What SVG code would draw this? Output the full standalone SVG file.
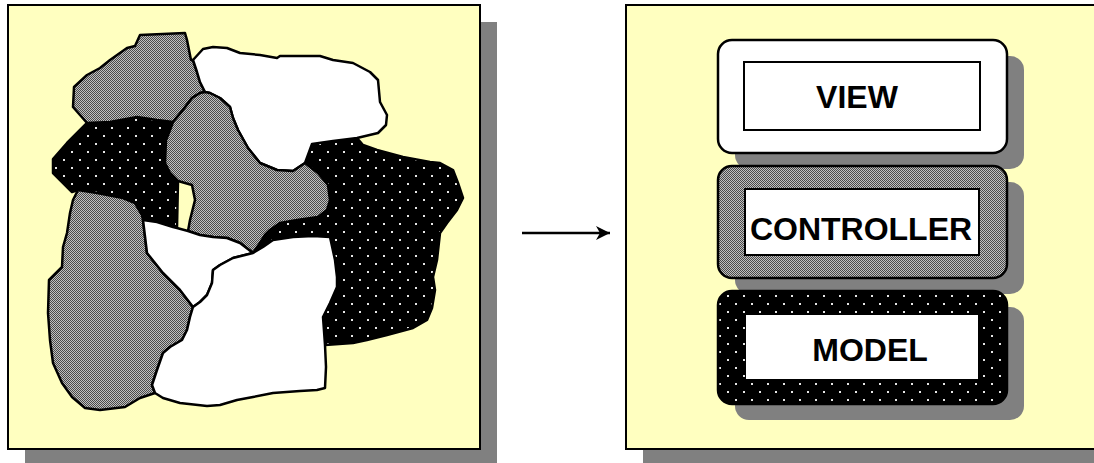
<svg xmlns="http://www.w3.org/2000/svg" width="1094" height="463" viewBox="0 0 1094 463">
  <style>
    .panel { fill: #FFFFC0; stroke: #000; stroke-width: 2; }
    .shadow { fill: #808080; stroke: none; }
    .blob { stroke: #000; stroke-width: 2.5; stroke-linejoin: round; }
    .white { fill: #fff; }
    .gray { fill: url(#checker); }
    .dots { fill: url(#dots); }
    .box { stroke: #000; stroke-width: 2.5; }
    .inner { fill: #fff; stroke: #000; stroke-width: 2; }
    .label { font-family: "Liberation Sans", Arial, sans-serif; font-weight: bold; font-size: 32px; fill: #000; text-anchor: middle; }
    .conn { stroke: #000; stroke-width: 2.5; fill: none; }
  </style>
  <defs>
    <pattern id="checker" width="2" height="2" patternUnits="userSpaceOnUse">
      <rect width="2" height="2" fill="#c0c0c0"/>
      <rect width="1" height="1" fill="#4a4a4a"/>
      <rect x="1" y="1" width="1" height="1" fill="#4a4a4a"/>
    </pattern>
    <pattern id="dots" width="16" height="16" patternUnits="userSpaceOnUse">
      <rect width="16" height="16" fill="#000"/>
      <rect x="7" y="7" width="2" height="2" fill="#e6e6e6"/>
      <rect x="15" y="15" width="2" height="2" fill="#e6e6e6"/>
      <rect x="-1" y="-1" width="2" height="2" fill="#e6e6e6"/>
      <rect x="15" y="-1" width="2" height="2" fill="#e6e6e6"/>
      <rect x="-1" y="15" width="2" height="2" fill="#e6e6e6"/>
    </pattern>
    <marker id="arrowhead" markerUnits="userSpaceOnUse" markerWidth="16" markerHeight="16" viewBox="0 0 16 16" refX="15" refY="8" orient="auto">
      <polygon points="15,8 1,1 5,8 1,15" fill="#000"/>
    </marker>
  </defs>

  <g id="left-panel">
    <rect class="shadow" x="25" y="22" width="472" height="444"/>
    <rect class="panel" x="8" y="5" width="472" height="444"/>
    <g id="blobs">
      <polygon class="blob dots" points="87,123 110,122 137,117 157,120 173,122 170,130 166,140 165,163 170,173 178,181 177,228 173,227 157,222 143,220 142,215 135,203 123,198 97,193 78,190 72,192 63,183 53,173 53,159 67,143"/>
      <polygon class="blob dots" points="312,144 333,141 357,138 363,145 377,150 403,157 430,162 440,163 453,170 458,183 463,198 457,210 447,223 440,233 437,260 433,277 435,290 432,308 427,320 413,328 387,335 367,340 353,343 325,345 323,317 330,303 337,287 337,277 335,260 330,237 313,236 293,237 273,240 263,247 253,253 260,243 265,235 270,230 280,223 297,220 318,217 327,210 330,200 328,185 318,173 305,163"/>
      <polygon class="blob gray" points="87,123 73,107 74,87 87,75 100,68 110,60 127,48 135,46 140,35 185,33 187,40 191,60 193,60 197,72 200,82 205,92 200,93 192,98 183,110 173,122 157,120 137,117 110,122"/>
      <polygon class="blob white" points="193,60 203,49 213,47 227,48 240,53 260,55 277,58 280,56 320,56 333,60 353,63 370,72 378,80 380,102 387,115 386,125 378,133 357,138 333,141 312,144 305,163 293,171 277,170 260,163 248,148 238,130 233,118 230,107 220,98 210,93 205,92 200,82 197,72"/>
      <polygon class="blob gray" points="173,122 183,110 192,98 200,93 205,92 210,93 220,98 230,107 233,118 238,130 248,148 260,163 277,170 293,171 305,163 318,173 328,185 330,200 327,210 318,217 297,220 280,223 270,230 265,235 260,243 253,253 240,243 227,238 213,237 200,235 188,231 190,220 195,200 192,185 178,181 170,173 165,163 166,140 170,130"/>
      <polygon class="blob gray" points="78,190 97,193 123,198 135,203 142,215 143,220 147,253 163,273 180,290 193,307 190,317 187,330 182,340 170,347 163,353 157,370 152,385 155,393 140,398 125,407 100,410 85,408 72,397 62,383 53,363 50,340 48,313 49,280 62,267 63,247 67,233 70,213 73,200"/>
      <polygon class="blob white" points="143,220 157,222 173,227 177,228 188,231 200,235 213,237 227,238 240,243 253,253 233,258 220,265 213,270 212,283 207,295 200,302 193,307 180,290 163,273 147,253"/>
      <polygon class="blob white" points="253,253 263,247 273,240 293,237 313,236 330,237 335,260 337,277 337,287 330,303 323,317 325,345 326,367 325,388 317,390 300,391 273,393 253,397 237,400 220,405 207,406 180,403 163,398 155,393 152,385 157,370 163,353 170,347 182,340 187,330 190,317 193,307 200,302 207,295 212,283 213,270 220,265 233,258"/>
    </g>
  </g>

  <g id="right-panel">
    <rect class="shadow" x="643" y="22" width="480" height="444"/>
    <rect class="panel" x="626" y="5" width="480" height="444"/>
  </g>

  <g id="view">
    <rect class="shadow" x="735" y="56" width="289" height="113" rx="14"/>
    <rect class="box white" x="718" y="40" width="289" height="113" rx="14"/>
    <rect class="inner" x="744" y="62" width="236" height="68"/>
    <text class="label" x="857" y="108">VIEW</text>
  </g>

  <g id="controller">
    <rect class="shadow" x="735" y="182" width="289" height="112" rx="14"/>
    <rect class="box gray" x="718" y="166" width="289" height="112" rx="14"/>
    <rect class="inner" x="745" y="189" width="234" height="66"/>
    <text class="label" x="861" y="240">CONTROLLER</text>
  </g>

  <g id="model">
    <rect class="shadow" x="735" y="307" width="289" height="113" rx="14"/>
    <rect class="box dots" x="718" y="291" width="289" height="113" rx="14"/>
    <rect x="746" y="315" width="232" height="64" fill="#fff"/>
    <text class="label" x="870" y="361">MODEL</text>
  </g>

  <g id="connectors">
    <line class="conn" x1="522" y1="233" x2="610" y2="233" marker-end="url(#arrowhead)"/>
  </g>
</svg>
